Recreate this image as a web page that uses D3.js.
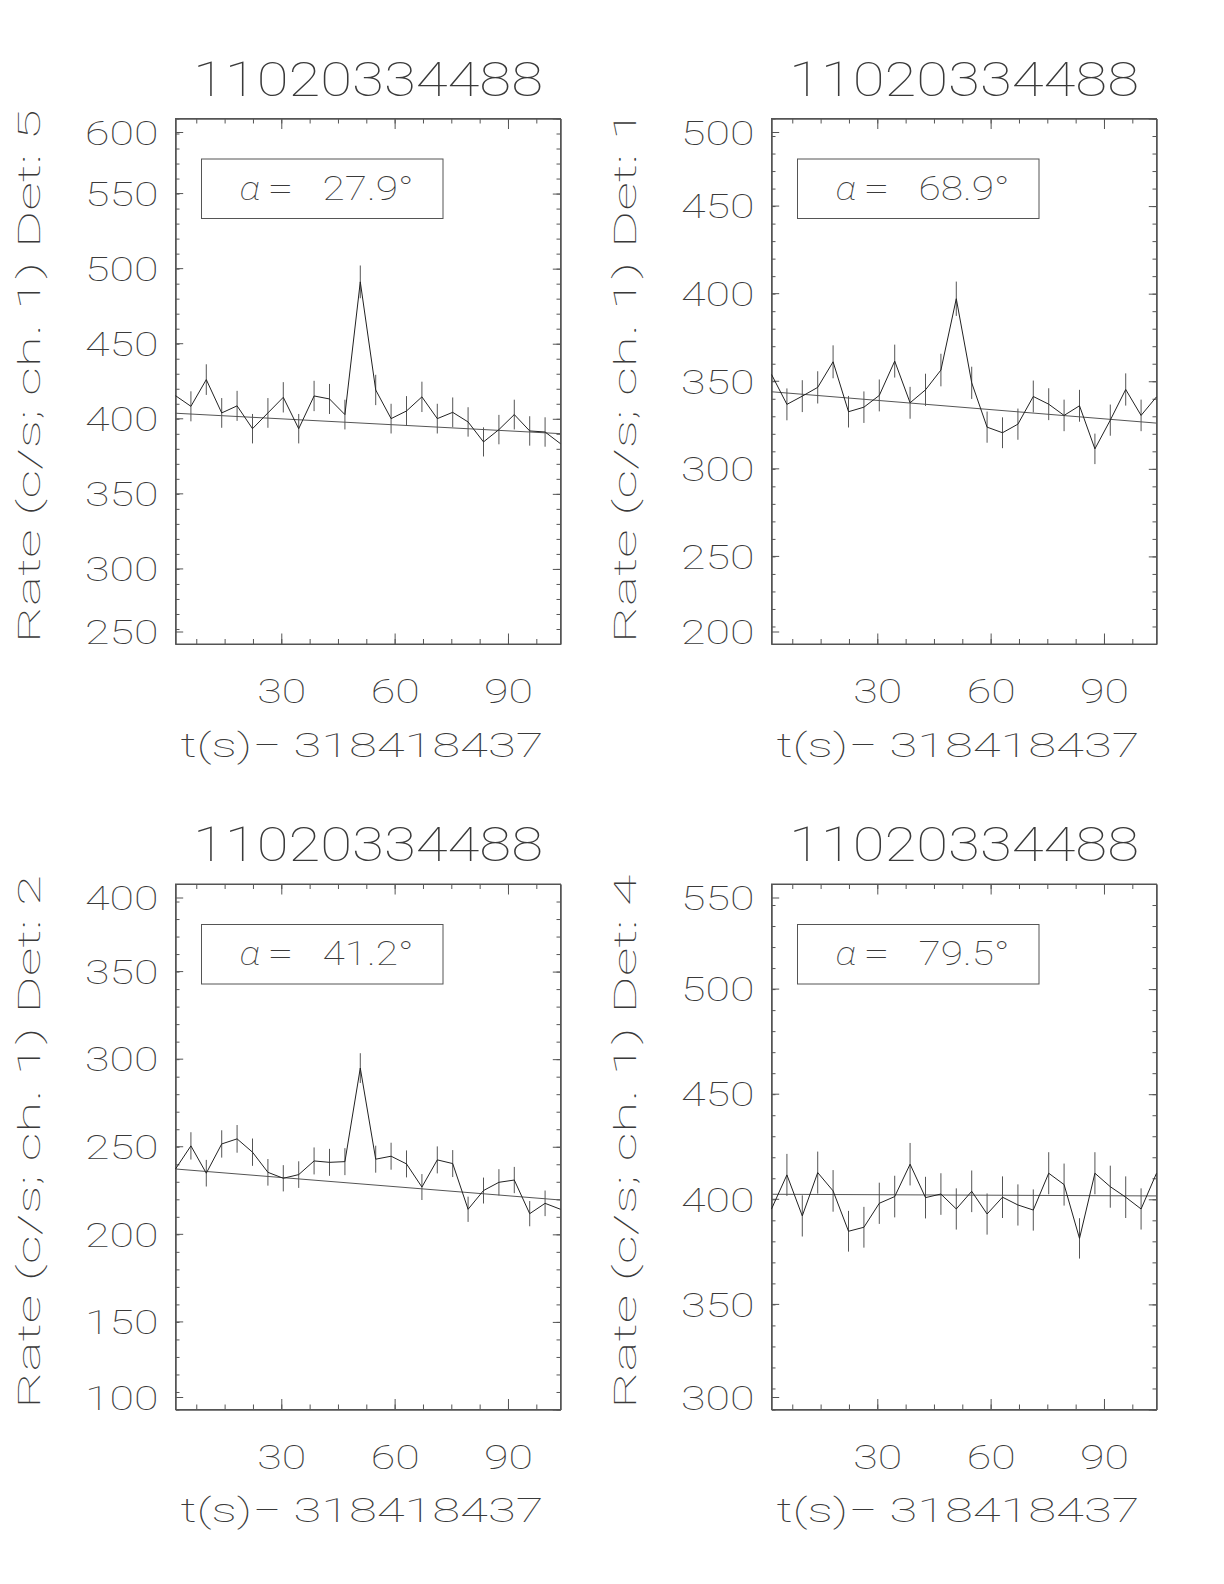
<!DOCTYPE html>
<html><head><meta charset="utf-8">
<script src="https://cdn.jsdelivr.net/npm/d3@7"></script>
<style>
body{margin:0;background:#fff;}
text{font-family:Roboto, Lato, Inter, sans-serif;font-weight:100;fill:#3a3a3a;}
</style>
</head><body>
<svg id="c" width="1224" height="1584" xmlns="http://www.w3.org/2000/svg"></svg>
<script>
// ---- data ----
const times = [2.0, 6.08, 10.15, 14.23, 18.3, 22.38, 26.46, 30.53, 34.61, 38.68, 42.76, 46.84, 50.91,
               54.99, 59.06, 63.14, 67.22, 71.29, 75.37, 79.44, 83.52, 87.6, 91.67, 95.75, 99.82, 103.9];
const xTickLabels = [30, 60, 90];
const xTitle = "t(s)\u2212 318418437";
const burstId = "11020334488";

const detectors = [5, 1, 2, 4];
const alphas = ["27.9", "68.9", "41.2", "79.5"];

const rateDet5 = [415.4, 408.3, 426.1, 403.9, 408.6, 393.4, 403.9, 414.3, 393.4, 415.2, 413.2, 402.8, 491.2,
                  419.2, 400.1, 405.2, 414.6, 400.1, 404.3, 397.9, 384.6, 392.8, 402.8, 391.9, 391.2, 383.4];
const errDet5  = [10.1, 10.0, 10.2, 9.9, 10.0, 9.8, 9.9, 10.1, 9.8, 10.1, 10.0, 9.9, 10.9,
                  10.1, 9.9, 9.9, 10.1, 9.9, 9.9, 9.8, 9.7, 9.8, 9.9, 9.8, 9.8, 9.7];
const fitDet5  = [403.7, 390.1];

const rateDet1 = [353.9, 336.8, 341.5, 346.5, 361.1, 332.6, 335.2, 341.9, 361.5, 337.7, 345.1, 356.4, 397.1,
                  349.1, 323.8, 320.6, 325.5, 341.3, 336.9, 330.5, 336.0, 311.4, 327.8, 345.3, 330.5, 341.1];
const errDet1  = [9.3, 9.1, 9.1, 9.2, 9.4, 9.0, 9.0, 9.1, 9.4, 9.1, 9.2, 9.3, 9.8,
                  9.2, 8.9, 8.8, 8.9, 9.1, 9.1, 9.0, 9.1, 8.7, 8.9, 9.2, 9.0, 9.1];
const fitDet1  = [344.0, 326.1];

const rateDet2 = [237.3, 250.5, 234.9, 251.6, 254.5, 246.9, 235.4, 232.0, 234.1, 241.9, 241.1, 241.5, 294.9,
                  242.9, 244.6, 240.2, 227.0, 242.5, 240.4, 214.3, 225.0, 229.7, 231.0, 211.8, 217.7, 214.3];
const errDet2  = [7.6, 7.8, 7.6, 7.8, 7.9, 7.8, 7.6, 7.5, 7.6, 7.7, 7.7, 7.7, 8.5,
                  7.7, 7.7, 7.7, 7.4, 7.7, 7.7, 7.2, 7.4, 7.5, 7.5, 7.2, 7.3, 7.2];
const fitDet2  = [237.3, 219.6];

const rateDet4 = [395.4, 411.6, 392.1, 412.7, 404.0, 384.8, 386.7, 398.1, 401.3, 416.7, 400.8, 402.5, 395.4,
                  403.8, 393.0, 401.0, 397.3, 394.9, 412.4, 407.0, 381.4, 412.4, 406.0, 401.0, 395.4, 412.4];
const errDet4  = [9.8, 10.0, 9.8, 10.0, 9.9, 9.7, 9.7, 9.8, 9.9, 10.1, 9.9, 9.9, 9.8,
                  9.9, 9.8, 9.9, 9.8, 9.8, 10.0, 10.0, 9.6, 10.0, 10.0, 9.9, 9.8, 10.0];
const fitDet4  = [402.4, 401.6];

const yTicksDet5 = [250, 300, 350, 400, 450, 500, 550, 600];
const yTicksDet1 = [200, 250, 300, 350, 400, 450, 500];
const yTicksDet2 = [100, 150, 200, 250, 300, 350, 400];
const yTicksDet4 = [300, 350, 400, 450, 500, 550];

const panels = [
  {det: detectors[0], alpha: alphas[0], rate: rateDet5, err: errDet5, fit: fitDet5, yTicks: yTicksDet5},
  {det: detectors[1], alpha: alphas[1], rate: rateDet1, err: errDet1, fit: fitDet1, yTicks: yTicksDet1},
  {det: detectors[2], alpha: alphas[2], rate: rateDet2, err: errDet2, fit: fitDet2, yTicks: yTicksDet2},
  {det: detectors[3], alpha: alphas[3], rate: rateDet4, err: errDet4, fit: fitDet4, yTicks: yTicksDet4}
];

// ---- layout ----
const boxes = [{x:175.5, y:118.5}, {x:771.5, y:118.5}, {x:175.5, y:884}, {x:771.5, y:884}];
const W = 385, H = 525.5;
const AX = "#555", INK = "#3a3a3a";

const svg = d3.select("#c");

panels.forEach((p, i) => {
  const b = boxes[i];
  const g = svg.append("g").attr("transform", `translate(${b.x},${b.y})`);
  const x = d3.scaleLinear().domain([times[0], times[times.length-1]]).range([0, W]);
  const yMin = d3.min(p.yTicks), yMax = d3.max(p.yTicks);
  const y = d3.scaleLinear().domain([yMin, yMax]).range([H, 0]);

  const xMinor = d3.range(7.5, times[times.length-1], 7.5).filter(v => v > times[0]);
  const yMinor = d3.range(yMin, yMax + 0.001, 10);

  const styleAxis = sel => {
    sel.selectAll("path.domain").attr("stroke", AX).attr("stroke-width", 1);
    sel.selectAll(".tick line").attr("stroke", AX).attr("stroke-width", 1);
  };

  // minor ticks (all 4 sides)
  g.append("g").attr("transform", `translate(0,${H})`)
    .call(d3.axisBottom(x).tickValues(xMinor).tickSize(-5).tickFormat("").tickSizeOuter(0)).call(styleAxis);
  g.append("g")
    .call(d3.axisTop(x).tickValues(xMinor).tickSize(-5).tickFormat("").tickSizeOuter(0)).call(styleAxis);
  g.append("g")
    .call(d3.axisLeft(y).tickValues(yMinor).tickSize(-4).tickFormat("").tickSizeOuter(0)).call(styleAxis);
  g.append("g").attr("transform", `translate(${W},0)`)
    .call(d3.axisRight(y).tickValues(yMinor).tickSize(-4).tickFormat("").tickSizeOuter(0)).call(styleAxis);

  // major ticks
  const xAx = g.append("g").attr("transform", `translate(0,${H})`)
    .call(d3.axisBottom(x).tickValues(xTickLabels).tickSize(-10.5).tickSizeOuter(0).tickPadding(0))
    .call(styleAxis);
  xAx.selectAll("text").attr("y", 59).attr("dy", null)
    .attr("font-size", 34).attr("fill", INK).attr("font-family", null)
    .attr("textLength", d => String(d).length * 24.5).attr("lengthAdjust", "spacingAndGlyphs");
  g.append("g")
    .call(d3.axisTop(x).tickValues(xTickLabels).tickSize(-10.5).tickFormat("").tickSizeOuter(0)).call(styleAxis);

  const yAx = g.append("g")
    .call(d3.axisLeft(y).tickValues(p.yTicks).tickSize(-7.7).tickSizeOuter(0).tickPadding(17))
    .call(styleAxis);
  yAx.selectAll("text")
    .attr("font-size", 34).attr("fill", INK).attr("font-family", null)
    .attr("dy", "0.36em")
    .attr("textLength", d => String(d).length * 24.5).attr("lengthAdjust", "spacingAndGlyphs");
  // IDL keeps end labels inside the axis span
  yAx.selectAll(".tick").attr("transform", d => {
    let ty = y(d);
    ty = Math.max(14, Math.min(H - 12, ty));
    return `translate(0,${ty})`;
  });
  g.append("g").attr("transform", `translate(${W},0)`)
    .call(d3.axisRight(y).tickValues(p.yTicks).tickSize(-7.7).tickFormat("").tickSizeOuter(0)).call(styleAxis);

  // frame
  g.append("rect").attr("width", W).attr("height", H).attr("fill", "none").attr("stroke", AX).attr("stroke-width", 1);

  // fitted background
  g.append("path")
    .datum([[times[0], p.fit[0]], [times[times.length-1], p.fit[1]]])
    .attr("d", d3.line().x(d => x(d[0])).y(d => y(d[1])))
    .attr("fill", "none").attr("stroke", "#555").attr("stroke-width", 1);

  // error bars
  g.append("g").selectAll("line").data(p.rate).join("line")
    .attr("x1", (d, k) => x(times[k])).attr("x2", (d, k) => x(times[k]))
    .attr("y1", (d, k) => y(d - p.err[k])).attr("y2", (d, k) => y(d + p.err[k]))
    .attr("stroke", "#555").attr("stroke-width", 1);

  // light curve
  g.append("path").datum(p.rate)
    .attr("d", d3.line().x((d, k) => x(times[k])).y(d => y(d)))
    .attr("fill", "none").attr("stroke", "#222").attr("stroke-width", 1);

  // title
  g.append("text").attr("x", W / 2).attr("y", -23).attr("text-anchor", "middle")
    .attr("font-size", 48).attr("textLength", 350).attr("lengthAdjust", "spacingAndGlyphs")
    .text(burstId);

  // x title
  g.append("text").attr("x", W / 2 - 6).attr("y", H + 112.5).attr("text-anchor", "middle")
    .attr("font-size", 34).attr("textLength", 363).attr("lengthAdjust", "spacingAndGlyphs")
    .text(xTitle);

  // y title
  g.append("text").attr("transform", `translate(-136,${H / 2 - 5}) rotate(-90)`)
    .attr("text-anchor", "middle").attr("font-size", 31)
    .attr("textLength", 534).attr("lengthAdjust", "spacingAndGlyphs")
    .text(`Rate (c/s; ch. 1) Det: ${p.det}`);

  // alpha box
  g.append("rect").attr("x", 26).attr("y", 40.5).attr("width", 241.5).attr("height", 59.5)
    .attr("fill", "none").attr("stroke", AX).attr("stroke-width", 1);
  const at = g.append("text").attr("y", 81).attr("font-size", 34);
  at.append("tspan").attr("x", 64).attr("font-style", "italic")
    .attr("textLength", 21).attr("lengthAdjust", "spacingAndGlyphs").text("\u03b1");
  at.append("tspan").attr("x", 92).attr("textLength", 26).attr("lengthAdjust", "spacingAndGlyphs").text("=");
  at.append("tspan").attr("x", 147).attr("textLength", 91).attr("lengthAdjust", "spacingAndGlyphs")
    .text(`${p.alpha}\u00b0`);
});
</script>
</body></html>
